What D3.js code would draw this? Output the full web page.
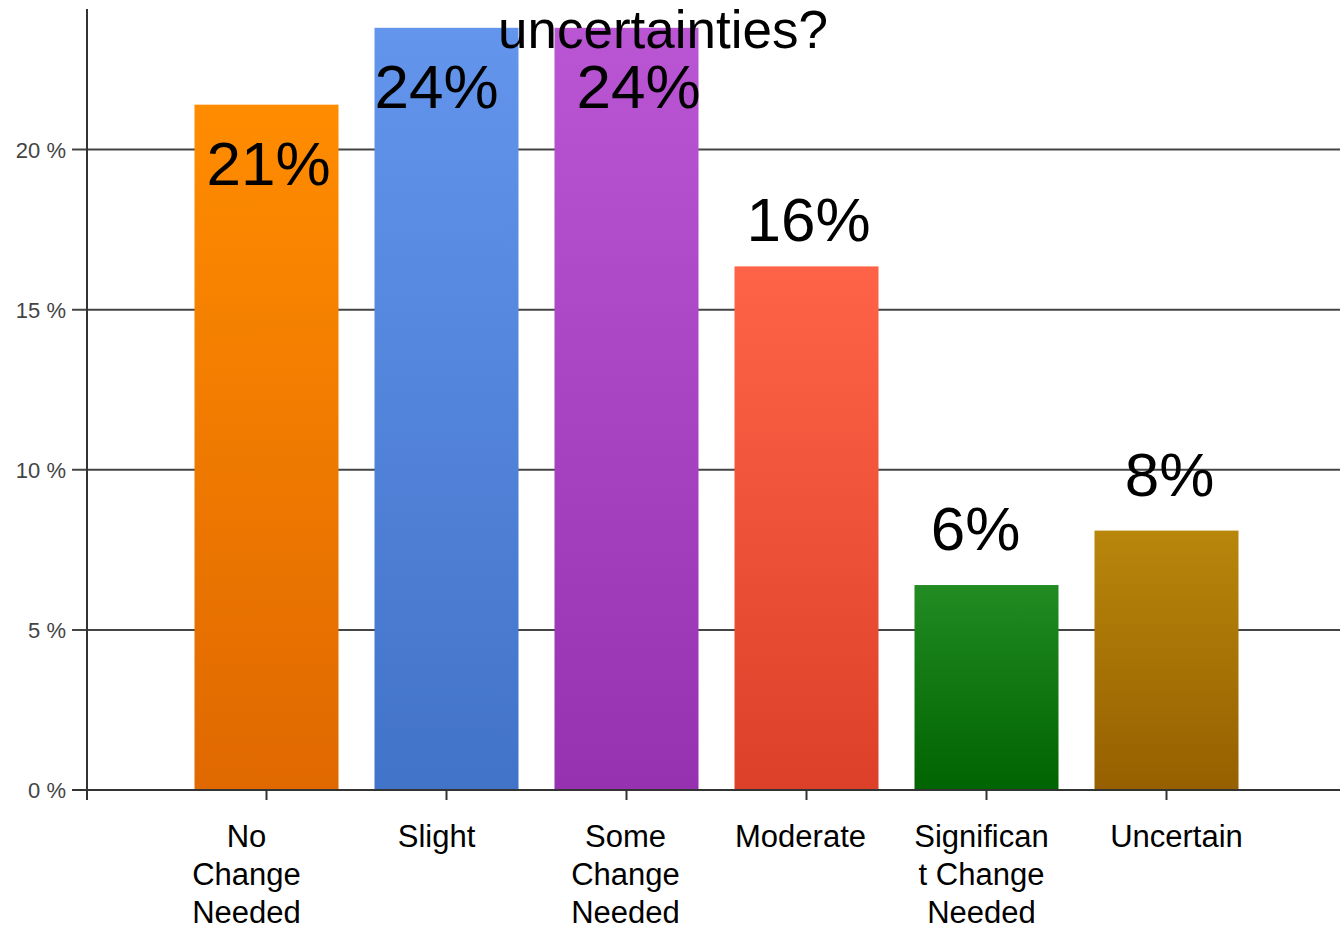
<!DOCTYPE html>
<html><head><meta charset="utf-8">
<script src="https://d3js.org/d3.v7.min.js"></script>
<style>html,body{margin:0;padding:0;background:#fff;}svg{display:block;}</style>
</head><body>
<script>
const categories = ["No Change Needed","Slight","Some Change Needed","Moderate","Significant Change Needed","Uncertain"];
const categoryLines = [["No","Change","Needed"],["Slight"],["Some","Change","Needed"],["Moderate"],["Significan","t Change","Needed"],["Uncertain"]];
const values = [21.4, 23.8, 23.8, 16.35, 6.4, 8.1];
const valueLabels = ["21%","24%","24%","16%","6%","8%"];
const topColors = ["#ff8c00","#6495ed","#ba55d3","#ff6347","#228b22","#b8860b"];
const bottomColors = ["#e06800","#4173c8","#9632b0","#dc4028","#006400","#966000"];
const yTicks = [0,5,10,15,20];
const yTickLabels = ["0 %","5 %","10 %","15 %","20 %"];
const titleText = "uncertainties?";

const W = 1340, H = 927;
const svg = d3.select("body").append("svg").attr("width", W).attr("height", H)
  .style("font-family", "'Liberation Sans', Arial, sans-serif");

const x = d3.scaleBand().domain(categories).range([176.5, 1256.5]).paddingInner(0.2).paddingOuter(0.1);
const y = d3.scaleLinear().domain([0, 20]).range([790, 149.5]);
const cx = c => x(c) + x.bandwidth() / 2;

const defs = svg.append("defs");
categories.forEach((c, i) => {
  const g = defs.append("linearGradient").attr("id", "g" + i)
    .attr("x1", 0).attr("y1", 0).attr("x2", 0).attr("y2", 1);
  g.append("stop").attr("offset", "0%").attr("stop-color", topColors[i]);
  g.append("stop").attr("offset", "100%").attr("stop-color", bottomColors[i]);
});

// gridlines
const gridX0 = 72, gridX1 = 1340;
svg.append("g").selectAll("line").data(yTicks).join("line")
  .attr("x1", gridX0).attr("x2", gridX1)
  .attr("y1", d => y(d)).attr("y2", d => y(d))
  .attr("stroke", "#444").attr("stroke-width", 2);

// y tick labels
svg.append("g").selectAll("text").data(yTicks).join("text")
  .attr("x", 66).attr("y", d => y(d) + 8)
  .attr("text-anchor", "end").attr("font-size", 22).attr("fill", "#444")
  .text((d, i) => yTickLabels[i]);

// bars
svg.append("g").selectAll("rect").data(values).join("rect")
  .attr("x", (d, i) => x(categories[i]))
  .attr("width", x.bandwidth())
  .attr("y", d => y(d))
  .attr("height", d => y(0) - y(d))
  .attr("fill", (d, i) => `url(#g${i})`);

// y axis line
svg.append("line").attr("x1", 87).attr("x2", 87).attr("y1", 9).attr("y2", 800)
  .attr("stroke", "#333").attr("stroke-width", 2);
// x axis line
svg.append("line").attr("x1", gridX0).attr("x2", gridX1).attr("y1", y(0)).attr("y2", y(0))
  .attr("stroke", "#333").attr("stroke-width", 2);
// x ticks
svg.append("g").selectAll("line").data(categories).join("line")
  .attr("x1", cx).attr("x2", cx)
  .attr("y1", y(0)).attr("y2", y(0) + 10)
  .attr("stroke", "#333").attr("stroke-width", 2);

// category labels
const labelDx = [-20, -10, -1, -6, -5, 10];
const catG = svg.append("g");
categories.forEach((c, i) => {
  const t = catG.append("text")
    .attr("y", 847).attr("text-anchor", "middle")
    .attr("font-size", 31).attr("fill", "#000");
  categoryLines[i].forEach((ln, j) => {
    t.append("tspan").attr("x", cx(c) + labelDx[i])
      .attr("dy", j === 0 ? 0 : 38).text(ln);
  });
});

// title
svg.append("text").attr("x", 663).attr("y", 48).attr("text-anchor", "middle")
  .attr("font-size", 53).attr("fill", "#000").text(titleText);

// value labels
const valueDx = [2, -10, 12, 2, -11, 3];
svg.append("g").selectAll("text").data(values).join("text")
  .attr("x", (d, i) => cx(categories[i]) + valueDx[i])
  .attr("y", d => d > 20 ? y(d) + 80 : d > 10 ? y(d) - 25 : y(d) - 35)
  .attr("text-anchor", "middle").attr("font-size", 62).attr("fill", "#000")
  .text((d, i) => valueLabels[i]);
</script>
</body></html>
